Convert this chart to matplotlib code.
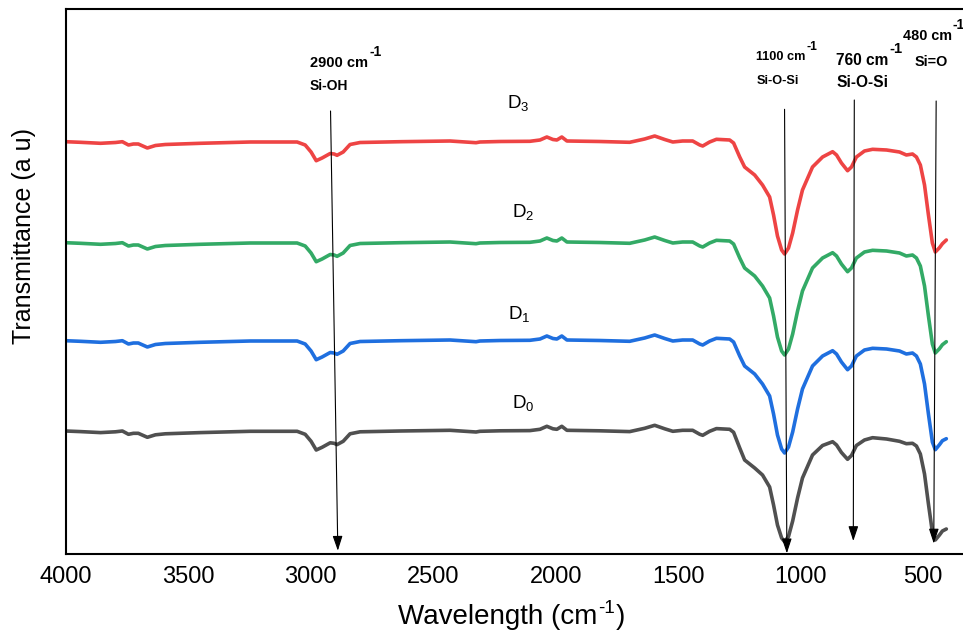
import matplotlib
matplotlib.use("Agg")
import matplotlib.pyplot as plt

plt.rcParams['font.family'] = ['Liberation Sans', 'DejaVu Sans']
plt.rcParams['mathtext.fontset'] = 'custom'
plt.rcParams['mathtext.rm'] = 'Liberation Sans'
plt.rcParams['mathtext.it'] = 'Liberation Sans:italic'
plt.rcParams['mathtext.bf'] = 'Liberation Sans:bold'

# wavenumbers (cm-1)
wavenumber = [4000, 3939, 3857, 3796, 3768, 3743, 3723, 3703, 3666, 3633, 3593, 3450, 3246,
              3055, 3022, 2998, 2977, 2953, 2920, 2904, 2892, 2867, 2839, 2798, 2635, 2431,
              2325, 2309, 2227, 2105, 2064, 2036, 2011, 1995, 1975, 1954, 1820, 1698, 1637,
              1596, 1555, 1522, 1482, 1441, 1412, 1400, 1372, 1344, 1290, 1274, 1249, 1229,
              1188, 1156, 1127, 1111, 1095, 1078, 1066, 1050, 1033, 1013, 993, 952, 911, 870,
              854, 834, 809, 793, 773, 740, 707, 650, 597, 569, 544, 528, 512, 495, 479, 463,
              451, 434, 422, 406]

# relative transmittance (a.u.) of each sample
D3 = [0, -0.6, -1.6, -0.8, 0, -3.3, -2.3, -2.3, -6.3, -3.8, -2.8, -1.6, -0.3,
      -0.3, -3.3, -10.3, -19, -16.3, -11.8, -12.3, -13.6, -10.3, -2.8, -0.8, 0, 0.7,
      -1, -0.3, 0.2, 0.4, 1.7, 4.7, 2.2, 1.7, 4.7, 0.7, 0.2, -0.6, 2.7,
      5.7, 2.2, -0.3, 0.7, 0.7, -3.3, -4.3, -0.3, 2.4, 1.7, -1.3, -15.3, -25.3,
      -33.3, -43.3, -55.3, -73.3, -94.3, -108.3, -112.3, -106.3, -91.3, -68.3, -48.3, -25.3, -15.3, -10,
      -13.3, -21.3, -29, -25.3, -15.3, -9.3, -7.6, -8.3, -10.3, -13.3, -12.3, -15.3, -23.3, -43.3, -73.3, -101.3,
      -110.3, -106, -102, -98.3]
D2 = [0, -0.6, -1.6, -0.8, 0, -3.3, -2.3, -2.3, -6.3, -3.8, -2.8, -1.6, -0.3,
      -0.3, -3.3, -10.3, -19, -16.3, -11.8, -12.3, -13.6, -10.3, -2.8, -0.8, 0, 0.7,
      -1, -0.3, 0.2, 0.4, 1.7, 4.7, 2.2, 1.7, 4.7, 0.7, 0.2, -0.6, 2.7,
      5.7, 2.2, -0.3, 0.7, 0.7, -3.3, -4.3, -0.3, 2.4, 1.7, -1.3, -15.3, -25.3,
      -33.3, -43.3, -55.3, -73.3, -94.3, -108.3, -112.3, -106.3, -91.3, -68.3, -48.3, -25.3, -15.3, -10,
      -13.3, -21.3, -29, -25.3, -15.3, -9.3, -7.6, -8.3, -10.3, -13.3, -12.3, -15.3, -23.3, -43.3, -73.3, -101.3,
      -110.3, -106, -102, -99]
D1 = [0, -0.6, -1.6, -0.8, 0, -3.3, -2.3, -2.3, -6.3, -3.8, -2.8, -1.6, -0.3,
      -0.3, -3.3, -10.3, -19, -16.3, -11.8, -12.3, -13.6, -10.3, -2.8, -0.8, 0, 0.7,
      -1, -0.3, 0.2, 0.4, 1.7, 4.7, 2.2, 1.7, 4.7, 0.7, 0.2, -0.6, 2.7,
      5.7, 2.2, -0.3, 0.7, 0.7, -3.3, -4.3, -0.3, 2.4, 1.7, -1.3, -15.3, -25.3,
      -33.3, -43.3, -55.3, -73.3, -94.3, -108.3, -112.3, -106.3, -91.3, -68.3, -48.3, -25.3, -15.3, -10,
      -13.3, -21.3, -29, -25.3, -15.3, -9.3, -7.6, -8.3, -10.3, -13.3, -12.3, -15.3, -23.3, -43.3, -73.3, -101.3,
      -109, -104, -100, -98]
D0 = [0, -0.6, -1.6, -0.8, 0, -3.3, -2.3, -2.3, -6.3, -3.8, -2.8, -1.6, -0.3,
      -0.3, -3.3, -10.3, -19, -16.3, -11.8, -12.3, -13.6, -10.3, -2.8, -0.8, 0, 0.7,
      -1, -0.3, 0.2, 0.4, 1.7, 4.7, 2.2, 1.7, 4.7, 0.7, 0.2, -0.6, 2.7,
      5.7, 2.2, -0.3, 0.7, 0.7, -3.3, -4.3, -0.3, 2.4, 1.7, -1.3, -17, -29,
      -37, -44, -56, -74, -94, -107, -110.7, -105.5, -90, -67, -47, -24, -14.5, -10.7,
      -14, -21.5, -28.3, -24.5, -14.5, -9, -6.7, -8, -10.3, -12.7, -12.3, -15, -23, -43, -73, -101,
      -109, -104, -100, -98]

series = ['D$_3$', 'D$_2$', 'D$_1$', 'D$_0$']
values = [D3, D2, D1, D0]
colors = ['#EE4444', '#33AA66', '#1F6FDF', '#505050']
offsets = [412.6, 311.6, 213.6, 123.3]

xticks = [4000, 3500, 3000, 2500, 2000, 1500, 1000, 500]

W, H = 963, 632
fig = plt.figure(figsize=(W / 100, H / 100), dpi=100)
ax = fig.add_axes([65.5 / W, (H - 554.3) / H, (W - 65.5) / W, (554.3 - 9.3) / H])

for vals, col, off in zip(values, colors, offsets):
    ax.plot(wavenumber, [v + off for v in vals], color=col, lw=2.6,
            solid_joinstyle='round', solid_capstyle='round')

ax.set_xlim(4000, 338)
ax.set_ylim(0, 545)
ax.set_xticks(xticks)
ax.set_xticklabels([str(t) for t in xticks])
ax.set_yticks([])
ax.tick_params(axis='x', length=0, pad=8.5, labelsize=17)
for s in ['left', 'bottom', 'top']:
    ax.spines[s].set_linewidth(1.5)
    ax.spines[s].set_color('black')
ax.spines['right'].set_visible(False)


def fx(px):
    return px / W


def fy(py):
    return (H - py) / H


renderer = fig.canvas.get_renderer()


def sup_text(px, py, base, size, weight, sup_size, rise, gap=1.0):
    t = fig.text(fx(px), fy(py), base, fontsize=size, fontweight=weight,
                 ha='left', va='baseline')
    bb = t.get_window_extent(renderer=renderer)
    x_end = bb.x1 + gap
    s = fig.text(x_end / W, fy(py - rise), '-1', fontsize=sup_size, fontweight=weight,
                 ha='left', va='baseline')
    return s.get_window_extent(renderer=renderer).x1


# axis labels
xe = sup_text(398, 624, 'Wavelength (cm', 20, 'normal', 13.5, 11, gap=0.5)
fig.text((xe + 1) / W, fy(624), ')', fontsize=20, ha='left', va='baseline')
fig.text(fx(24), fy(236.5), 'Transmittance (a u)', fontsize=18, rotation=90,
         ha='center', va='center')

# series labels
label_pos = [(507, 108), (512, 217), (508, 319), (512, 408)]
for lab, (px, py) in zip(series, label_pos):
    fig.text(fx(px), fy(py), lab, fontsize=13.5, ha='left', va='baseline')

# annotations
ann = [
    ('2900 cm', 'Si-OH', 310, 67, 310, 90.5, 10.5, 10.0),
    ('1100 cm', 'Si-O-Si', 756.5, 59.5, 756.5, 84, 9.2, 9.2),
    ('760 cm', 'Si-O-Si', 836, 65, 836, 87, 11.2, 11.2),
    ('480 cm', 'Si=O', 902.5, 39.5, 915, 65.5, 10.4, 10.4),
]
for t1, t2, x1, y1, x2, y2, s1, s2 in ann:
    sup_text(x1, y1, t1, s1, 'bold', s1 * 0.95, s1 * 1.05)
    fig.text(fx(x2), fy(y2), t2, fontsize=s2, fontweight='bold', ha='left', va='baseline')

arrows = [
    ((2918.6, 443.3), (2888.8, 3.6)),
    ((1066.1, 445.0), (1056.7, 1.0)),
    ((781.5, 454.3), (785.6, 13.3)),
    ((447.5, 453.3), (457.3, 10.8)),
]
for start, tip in arrows:
    ax.annotate('', xy=tip, xytext=start,
                arrowprops=dict(arrowstyle='-|>,head_length=0.9,head_width=0.3',
                                lw=0.8, color='black', shrinkA=0, shrinkB=0),
                annotation_clip=False)

fig.savefig('out.png', dpi=100)
